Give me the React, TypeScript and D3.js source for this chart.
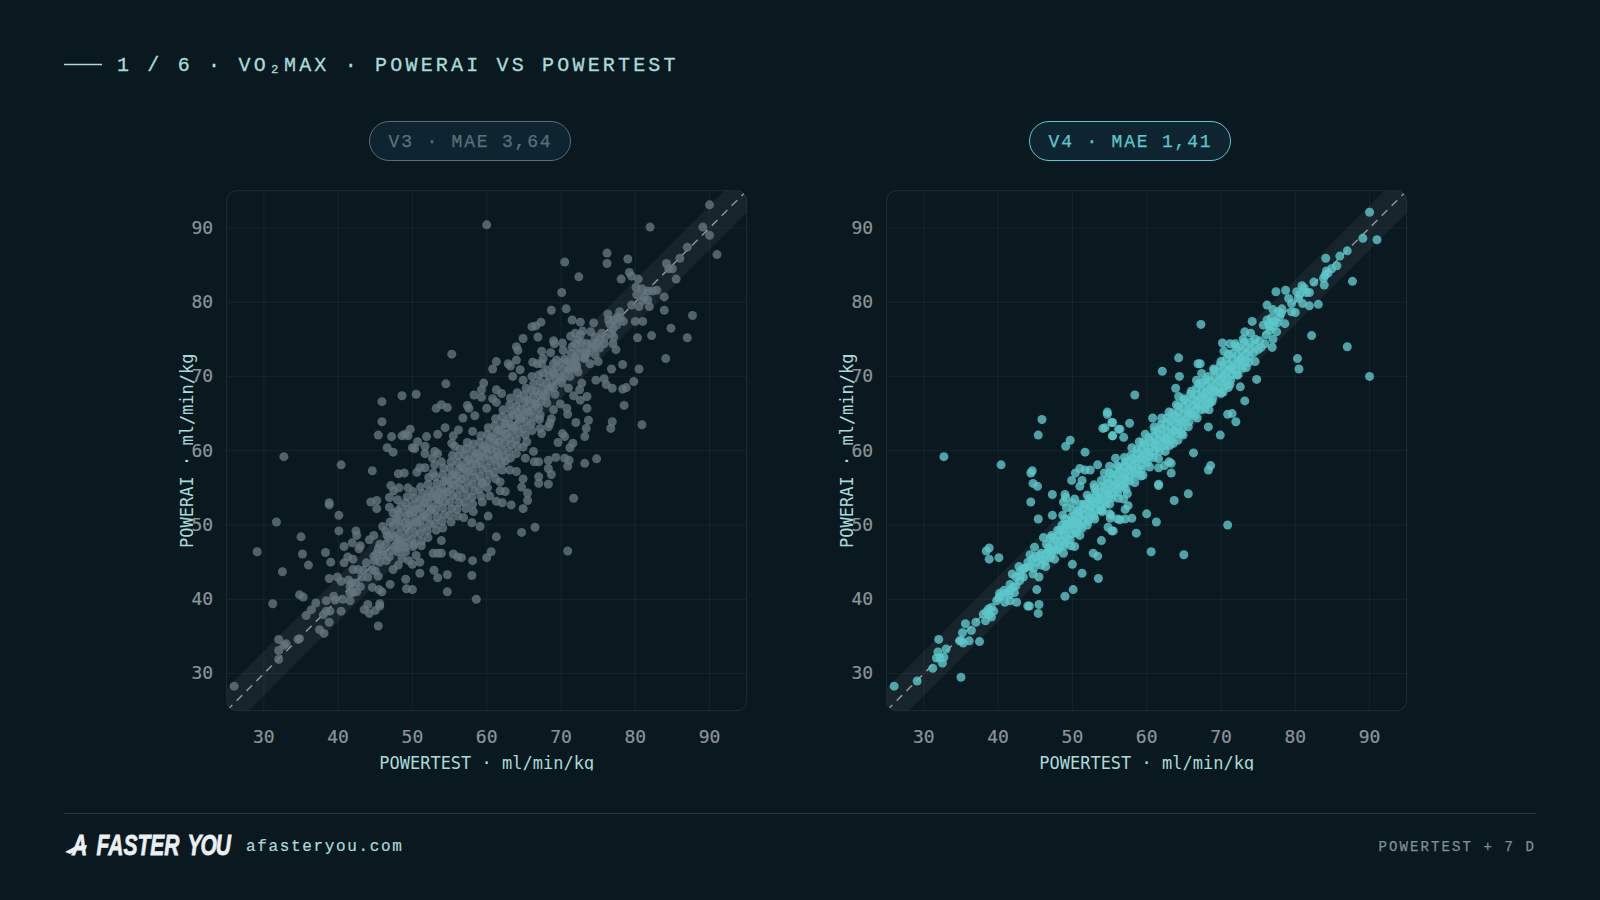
import React from "react";
import * as d3 from "d3";

type P = [number, number];

const tickValues = [30, 40, 50, 60, 70, 80, 90];
const domain: P = [25, 95];
const bandHalfWidth = 3;

const v3Points: P[] = [
[60,90.4],[82,90.1],[90,93.1],[89.1,90.1],[90,89],[91,86.4],[87,87.4],[86,85.9],[84.2,85.2],[84.5,84.5],[85,84.5],[85.5,83.1],
[76.2,86.6],[76.2,85.2],[79,85.8],[70.5,85.4],[72.4,83.4],[79.2,84],[79.5,83.5],[80.4,83.1],[78.1,83.1],[70.1,81.3],
[80.1,82],[80.9,81.8],[80.2,81],[81.2,80.7],[81.7,81.5],[82.9,81.6],[82.3,81.5],[81.7,80.3],[83.9,80.7],[81.9,79.4],[80.5,79.4],[79.5,79.6],[83.9,78.9],[81,80.2],
[87.7,78.2],[84.8,76.5],[87,75.2],[84.1,72.4],[82.2,75.5],[80.3,75.2],[81,77.4],[80,77.4],
[76.4,77.6],[77.1,77.6],[77.9,78.7],[76.3,78.4],[78.4,77.4],[77.5,76.9],[77.1,75.3],[77.4,73.6],[76.6,77],[77.6,78],[78,77.9],[77,76.4],[76.8,75.8],
[68.7,78.9],[70.7,79.1],[71.5,77.6],[72.6,77.3],[74.4,77.2],[67.3,77.3],[66.6,76.8],[66.1,76.7],[64.9,75.1],[66.9,75.3],[64,74],[64.2,73.5],[61.3,72],[60.8,71],[62.9,71.7],[63.2,71.4],[64,72.2],
[71.3,75.4],[71.9,75.8],[72.6,75.6],[72.9,76.1],[74,76],[74.6,75.3],[75.2,74.9],[75.9,75.3],[77,74.4],[73.5,74.4],[74.1,74.4],[74.8,74.5],[71.9,74.4],[72.3,74.9],[72.8,74.6],[75.5,75.8],
[69,74.8],[69.1,74.4],[70.2,74.5],[67.4,73.4],[68.6,73.2],[70.3,73.5],[67.6,72.4],[67.4,71.7],[66.2,71.9],[66.8,71.7],[69,71.7],[69.4,72.2],[70.5,72.3],[71.4,73.1],[71.9,72.6],[72.1,71.5],[73.2,72.6],[73.9,71.7],[75,72],[74.6,72.9],[73.5,73.1],[72.6,73.7],[71.5,74],[71,72],[71.8,71],
[67.6,70.5],[69,70.6],[70.3,69.8],[71.2,71.1],[72.3,70.6],[72.8,69.1],[74.7,69.5],[75.8,69.7],[76.1,68.9],[76.9,68.4],[76.8,71],[78.3,71.6],[80.5,71],[79.8,69.3],[78.3,68.3],[78.8,68.5],[78.5,66.1],[76.9,63.9],[76.7,63],[80.9,63.5],[74.8,58.9],[73.2,58.3],
[73.5,67.3],[72.6,66.8],[71.7,67.4],[72.5,68.2],[73.5,65.7],[69,65.5],[70.8,65.7],[70.9,64.9],[69.9,66.3],[71,68.4],[72,63.8],[73.7,64.1],[73.4,63],[73.2,61.9],[70.5,61.9],[70.2,62.3],[71.6,61],[71.2,60.4],[69.6,61.1],
[68.7,64.3],[68.5,63.7],[67.4,62.3],[67.1,64.2],[68.3,63.2],[67.2,63],[69.3,59.1],[68.3,58.7],[70.5,59],[71.1,58.7],[70.9,57.9],[68.3,57.6],[68.7,56.8],[67,58.5],[66.4,58.5],[67,56.5],[66.3,59.9],[65.2,59],[64.9,60.5],[65.4,61.2],[64,59.6],[63.1,57.4],[64,57.2],[62.5,58.6],[61.5,59.3],
[64.9,69.5],[66.1,70],[64.5,70.9],[63.5,70],[59.6,69.1],[59.3,68.2],[58.3,67.5],[59.3,67.2],[61.3,68.2],[62,67.7],[60.8,67],[61.3,66.5],[57.4,66.1],[57.6,65.7],[56.8,64.4],[58.4,64.7],[60,65.7],[58.1,62.6],
[32.7,59.2],[40.4,58.1],[44.6,57.3],[45.9,66.6],[48.6,67.4],[50.5,67.6],[54.5,69],[55.3,73],[53.2,65.7],[53.9,66.2],[54.7,65.8],[45.9,63.9],[45.4,62.1],[47.2,61.9],[48.6,62],[49.4,62],[49.7,62.9],[50.7,61.2],[51.9,61.9],[53.4,62.2],[54.4,63.1],[46.6,60.4],[47.4,59.8],[50.3,60.3],[51.7,60.6],[51.7,59.6],[53,59.9],[53.4,59.6],[52.7,59],[53.9,58.5],[48.1,56.9],[48.9,57],[50.6,57.1],[51,57.7],[51.7,57.7],[53,58.1],[52.8,57],[55.5,62],[56.2,62.8],[55.7,60.6],[55.3,61],[50,60.4],[49,62.2],
[26,28.3],[29.1,46.4],[31.7,50.4],[35,48.4],[35.2,46.1],[36,44.6],[32.5,43.7],[31.2,39.4],[34.8,40.6],[35.3,40.3],[32,34.6],[33,34],[32.7,33.8],[32,33.1],[32,31.9],[34.8,34.7],[34.6,34.6],[35.7,37.8],[36.4,38.6],[37,39.5],[37.5,35.9],[38.1,35.4],[38.8,36.9],[38,37.9],[38.9,38.4],[38.4,38.4],[38.4,39.8],[39.4,40.4],[39.6,39.9],[40.6,40],[41.6,39.8],[40.4,38.4],[38.8,42.8],[39.9,43],[40.4,42.4],[41.4,42.6],[38.3,46.3],[39,45],[40.8,44.9],[38.8,53],[38.8,52.7],[40.1,51.3],[40.1,49.2],[40.8,47.1],[41.9,47.6],[42.4,49.2],[42.5,48.6],[42.8,46.8],[43,47.2],[44.2,48],[44.8,48.6],[41.3,45.7],[42,45.4],
[42,44],[42.7,44],[43.4,43.9],[44,43],[45.4,43.1],[43.8,44.9],[41.6,41.7],[42,40.9],[42.5,41],[41.6,40.8],[43,41.7],[44.6,41.6],[45.5,41.3],[45.9,41],[47,42],[49.1,42.7],[49.2,41.4],[50,41.3],[43.5,38.6],[44,39.3],[44.2,38.1],[45,38.5],[45.6,39.4],[45.6,39.1],[45.4,36.4],[42.4,42.2],[41.8,42.2],[43.2,43],[44.6,44],[45,43.8],
[44.8,45.8],[45.4,46.8],[46.1,46.4],[44.9,45.2],[45.6,45],[46.5,45.2],[46.9,45.7],[45.6,47.4],[47.4,44],[48.1,44.6],[48.6,45.5],[47.9,47.5],[49,47],[49.5,45.2],[50.5,45.9],[51,45],[51,43.5],[50,44.7],[52.8,46.2],[53.4,46.2],[53.9,46.2],[55.5,46.1],[56.1,45.7],[52.9,43.9],[53.4,42.9],[54.7,43.3],[54.7,41],[53.9,47.9],[46,46],[45.2,46.2],[47.3,46.6],[48,46.4],[47.6,48.4],[48.2,47.9],[50.2,47.4],[51.2,47.2],[46.6,48.6],
[44.4,53.1],[45.2,53.3],[45.2,52.2],[46.9,52.4],[46.9,53.7],[47.1,55.3],[48.2,55],[49.4,55],[47.5,54.6],[48,53.4],[49.3,53.8],
[71.7,53.6],[66.5,49.7],[64.7,49],[61.3,48.4],[60.6,46.4],[60,45.6],[58.1,45.2],[58,43.2],[58.6,40],[56.6,45.6],[70.9,46.5],[59.1,49.8],[60.2,51.2],[58,50.3],[58.2,51.8],[56.9,51],[59.4,53.1],[61.3,53.2],[62.1,53],[63.3,52.7],[64.9,52.2],[65.5,53.3],[65.5,54.3],[64.7,55.1],[62.5,54.5],[61.8,54.6],[60.4,53.9],[67,55.6],[68.3,55.5],[64.9,56.2],[61.8,55.8],[59.4,55.6]
];

const v3Core: P[] = [
[47.2,48.8],[47.4,49.9],[47.8,50.8],[47.6,47.1],[48,51.9],
[48.1,46.9],[48.3,47.9],[48.2,48.8],[48.4,49.7],[48.1,50.6],[48.3,51.6],[48.5,52.5],
[49.1,46.4],[49,47.6],[49.2,48.5],[49.3,49.4],[49,50.3],[49.2,51.2],[49.4,52.1],[49.1,53],
[50.1,47.1],[50,48.1],[50.3,49],[50.1,50],[50.4,50.9],[50.2,51.8],[50,52.7],[50.3,53.6],[50.1,54.5],
[51.2,47.8],[51,48.8],[51.3,49.7],[51.1,50.6],[51.4,51.5],[51.2,52.4],[51,53.3],[51.3,54.2],[51.1,55.1],
[52.1,48.3],[52,49.2],[52.3,50.1],[52.1,51],[52.4,51.9],[52.2,52.8],[52,53.7],[52.3,54.6],[52.1,55.5],[52.2,56.4],
[53.2,49.3],[53,50.2],[53.3,51.1],[53.1,52],[53.4,52.9],[53.2,53.8],[53,54.7],[53.3,55.6],[53.1,56.5],
[54.1,49.6],[54,50.5],[54.3,51.4],[54.1,52.3],[54.4,53.2],[54.2,54.1],[54,55],[54.3,55.9],[54.1,56.8],[54.2,57.7],
[55.2,50.4],[55,51.3],[55.3,52.2],[55.1,53.1],[55.4,54],[55.2,54.9],[55,55.8],[55.3,56.7],[55.1,57.6],[55.2,58.5],[55.4,59.4],
[56.1,51.2],[56,52.1],[56.3,53],[56.1,53.9],[56.4,54.8],[56.2,55.7],[56,56.6],[56.3,57.5],[56.1,58.4],[56.2,59.3],[56.4,60.2],
[57.2,52.2],[57,53.1],[57.3,54],[57.1,54.9],[57.4,55.8],[57.2,56.7],[57,57.6],[57.3,58.5],[57.1,59.4],[57.2,60.3],[57.4,61.1],
[58.1,52.8],[58,53.7],[58.3,54.6],[58.1,55.5],[58.4,56.4],[58.2,57.3],[58,58.2],[58.3,59.1],[58.1,60],[58.2,60.9],
[59.2,53.9],[59,54.8],[59.3,55.7],[59.1,56.6],[59.4,57.5],[59.2,58.4],[59,59.3],[59.3,60.2],[59.1,61.1],[59.2,62],
[60.1,55],[60,55.9],[60.3,56.8],[60.1,57.7],[60.4,58.6],[60.2,59.5],[60,60.4],[60.3,61.3],[60.1,62.2],[60.2,63.1],
[61.2,56.2],[61,57.1],[61.3,58],[61.1,58.9],[61.4,59.8],[61.2,60.7],[61,61.6],[61.3,62.5],[61.1,63.4],[61.2,64.3],
[62.1,57.4],[62,58.3],[62.3,59.2],[62.1,60.1],[62.4,61],[62.2,61.9],[62,62.8],[62.3,63.7],[62.1,64.6],[62.2,65.5],
[63.2,59],[63,59.9],[63.3,60.8],[63.1,61.7],[63.4,62.6],[63.2,63.5],[63,64.4],[63.3,65.3],[63.1,66.2],[63.2,67.1],
[64.1,60.6],[64,61.5],[64.3,62.4],[64.1,63.3],[64.4,64.2],[64.2,65.1],[64,66],[64.3,66.9],[64.1,67.8],
[65.2,62.1],[65,63],[65.3,63.9],[65.1,64.8],[65.4,65.7],[65.2,66.6],[65,67.5],[65.3,68.4],
[66.1,62.7],[66,63.6],[66.3,64.5],[66.1,65.4],[66.4,66.3],[66.2,67.2],[66,68.1],[66.3,69],
[67.2,64.8],[67,65.7],[67.3,66.6],[67.1,67.5],[67.4,68.4],[67.2,69.3],[67,70.2],
[68.1,66.4],[68,67.3],[68.3,68.2],[68.1,69.1],[68.4,70],[68.2,70.9],
[69.2,67.6],[69,68.5],[69.3,69.4],[69.1,70.3],[69.4,71.2],
[70.1,69.1],[70,70],[70.3,70.9],[70.1,71.8],[71.2,70],[71,70.9],[71.3,71.8],[72.1,71.2],[72,72.2],[72.3,73.2],[73.1,72.4],[73.4,73.3],[74.2,73.8],[75.2,73.8],[75.8,74.4],[74.6,74],
[49.6,51.6],[50.6,50.4],[51.6,51.2],[52.6,52.2],[53.6,53.4],[54.6,54.4],[55.6,55.4],[56.6,56.2],[57.6,57.2],[58.6,58.2],[59.6,59.2],[60.6,60.2],[61.6,61.2],[62.6,62.2],[63.6,63.2],[64.6,64.4],[65.6,65.2],[66.6,66.2],[67.6,67.4],[68.6,68.6],
[49.6,50.2],[50.6,52.2],[51.6,53],[52.6,53.8],[53.6,54.4],[54.6,56],[55.6,56.8],[56.6,57.8],[57.6,58.8],[58.6,59.6],[59.6,60.6],[60.6,61.8],[61.6,62.8],[62.6,63.6],[63.6,64.8],[64.6,65.6],[65.6,66.8],[66.6,68],
[46.4,47.4],[46.8,48.2],[47,50.4],[46.4,49.2],[47.4,51.6],[46,49.8]
];

const v4Points: P[] = [
[90,92.1],[89.1,88.6],[91,88.4],[87,86.9],[86,86.2],[84.1,85.9],[85.6,84.9],[84.9,84.5],[84.2,84.2],[84.4,83.9],[84,83.6],[83.8,83.2],[83.9,82.3],[87.7,82.8],[82.5,82.7],
[80.9,82.2],[81.2,81.9],[81.5,81.3],[81.9,81.3],[80.2,81.4],[79.1,80.5],[79.5,79.8],[80.4,80.5],[80.6,81],[81,79.8],[81.9,79.5],[83.1,79.7],[80,78.6],[79.5,78.7],[77.4,81.4],[78.7,81.6],[76.2,79.6],[74.2,77.4],
[77,79],[77.7,78.7],[78.2,79.1],[77.9,78],[78.1,78.5],[78.6,77.1],[76.4,77.1],[75.7,76.9],[77,76.7],[76.2,77.6],[76.8,77.9],[77.5,76],[76.6,76.2],[76.1,75.6],[77,75],[75.9,74.4],[76.9,73.9],[77.6,77.2],[76.5,76.8],[77.2,77.4],
[73.2,76],[70.2,74.5],[71.2,74.4],[71.9,74.4],[70.4,73.4],[82.2,75.5],[87,74],[80.3,72.4],[80.5,71],[90,70],[67.3,77],[64.3,72.5],[66.9,71.7],[67.2,71.7],[62.1,70.7],[64.4,70],[67.4,70.4],[66.7,69.5],[63.9,68.4],[64.3,67.3],[58.4,67.5],
[74.8,69.6],[72.6,68.6],[70.3,67.9],[71,68.5],[73.2,66.7],[70.9,64.9],[71.5,65],[72,63.9],[68.3,63.2],[69.9,62.1],[68.5,66.4],[68.4,65.5],[66.3,59.7],[68.6,58],[68.3,57.4],[64.2,61.4],[64.9,62.1],[63.1,60.7],[63.3,58.3],[62.4,58],[63.3,57],[57.7,63.7],[56.4,62.9],[55.4,63.8],[55.4,62],[56.9,61.8],[60.8,64.4],
[61.6,55.5],[65.6,54.2],[60,51.5],[61.3,50.4],[70.9,50],[58.6,48.9],[60.6,46.4],[65,46],[58,50.9],[57.1,50.8],[56.4,50.7],[57.1,52.1],[56.9,53.5],[55.5,49.2],[55.2,51.3],[57.4,54.2],
[32.7,59.2],[40.4,58.1],[44.6,57.3],[45.9,64.2],[45.4,62.1],[49.1,60.6],[49.7,61.4],[51.7,59.8],[51,57.6],[51.7,57.4],[50.4,57],[54.7,65.2],[55.3,63.8],[54.1,63],[54.4,63.1],[55.4,62],[56.2,62.9],[54.3,57],[55,57.9],[55.8,59],
[26,28.3],[29.1,29],[31.2,30.7],[35,29.5],[32,34.6],[33,33.3],[31.9,32.9],[31.7,32.1],[32.2,32.1],[32.7,32.2],[32.5,31.4],[34.8,34.4],[35.1,34.4],[35.3,34.1],[36.1,34.4],[35.2,35.5],[35.6,36.7],[36.4,35.8],[37,36.9],[37.5,34.3],
[38.3,37.1],[38,38],[38.7,38.7],[39.1,38.9],[38.4,38.3],[39.1,37.6],[38.8,37.9],[39.4,38.4],[39.8,39.8],[40.4,40.5],[40.9,39.6],[41.6,39.8],[42.5,39.6],[42.2,40.9],[41.6,41.2],[42,41.6],[42.9,42.5],[43,43.2],[41.9,43.4],[40.1,40.2],[41,40.8],[41.5,40.6],[42.4,41.8],[43.4,43],
[38.4,46.5],[38.8,46.9],[38.8,45.4],[40.1,45.6],[44,39.1],[44.2,39.1],[45.5,39.3],[45.4,38.1],[45.2,41.3],[45.5,43],[49,40.4],[50.1,41.3],[53.5,42.8],[51.3,43.5],[50,44.7],[52.8,46.2],[50.3,47.1],[53.9,47.9],[44.3,46],[43.4,44.1],[44.7,43.4],[44.9,47],[46.1,48.3],[47.2,48.6],[45.4,50.8],
[44.4,53.1],[45.3,55.2],[47.3,54.1],[47.3,51.3],[48.7,51.3],[49,54.1],[48.8,53.1],[49.9,53],[50.3,53.5],[51,55.2],[49.9,56],[52.9,55.4],[54.8,49.7],[55.3,49.2],[55,51.5],[55.1,50.9],[56.1,50.8],
[44.4,57],[44.7,55.6],[49.1,53.7],[49.2,52.3],[51.3,56],[52.4,57.4],[53.4,58.1],[54.7,64.9],[59.5,56.7],[61.6,57.7],[63,58.5],[63.7,53.3],[53.4,45.8],[54,52],[57.5,52.6],[61.6,55.3]
];

const v4Core: P[] = [
[43.6,44.2],[44.2,44.4],[44.8,44.2],[45.2,45],[45.8,44.6],[46.3,45.1],[45,45.8],[45.8,46.2],[46.5,46.2],[47,45.6],[47.3,46.4],[46.8,47],[47.4,47.3],[47.8,46.8],[48.3,47],[47.8,47.9],[48.4,47.8],[48.9,47.6],[48.2,48.6],[48.8,48.6],[49.3,48.2],[48.8,49.3],[49.4,49.2],[49.9,48.8],[49.3,50],[49.9,49.9],[50.4,49.4],[49.9,50.6],[50.5,50.4],[51,49.8],[50.3,51.2],[50.9,51],[51.5,50.6],[51,51.7],[51.5,51.4],[52.1,51],[51.5,52.2],[52.1,52],[52.6,51.5],[52,52.9],[52.6,52.6],[53.2,52.1],[52.6,53.3],[53.2,53],[53.7,52.6],[53.2,53.9],[53.7,53.6],[54.3,53.1],[53.7,54.4],[54.3,54.1],[54.9,53.7],[54.3,55],[54.9,54.7],[55.4,54.2],[54.8,55.6],[55.4,55.2],[56,54.8],[55.4,56.2],[56,55.8],[56.5,55.3],[56,56.8],[56.5,56.3],[57.1,55.8],[56.5,57.3],[57.1,56.9],[57.7,56.5],[57,57.9],[57.6,57.5],[58.2,57],[57.6,58.5],[58.2,58],[58.8,57.6],[58.1,59],[58.7,58.6],[59.3,58.1],[58.7,59.6],[59.3,59.2],[59.8,58.7],[59.3,60.2],[59.8,59.7],[60.4,59.3],[59.8,60.8],[60.4,60.3],[61,59.9],[60.4,61.3],[61,60.9],[61.5,60.4],[61,61.9],[61.5,61.4],[62.1,61],[61.5,62.4],[62.1,62],[62.7,61.6],[62,63],[62.6,62.6],[63.2,62.1],[62.6,63.6],[63.2,63.1],[63.8,62.7],[63.2,64.1],[63.7,63.7],[64.3,63.2],[63.8,64.7],[64.3,64.3],[64.9,63.9],[64.3,65.2],[64.9,64.9],[65.4,64.4],[65,65.8],[65.5,65.4],[66,65],[65.6,66.4],[66.1,66],[66.6,65.6],[66.2,67],[66.7,66.6],[67.2,66.2],[66.8,67.5],[67.3,67.2],[67.8,66.8],[67.4,68.1],[67.9,67.8],[68.4,67.4],[68,68.7],[68.5,68.3],[69,67.9],[68.6,69.3],[69.1,68.9],[69.6,68.5],[69.2,69.9],[69.7,69.5],[70.2,69.1],[69.8,70.5],[70.3,70.1],[70.8,69.7],[70.4,71.1],[70.9,70.7],[71.4,70.2],[71,71.6],[71.5,71.2],[72,70.9],[71.6,72.2],[72.1,71.8],[72.6,71.4],[72.2,72.8],[72.7,72.4],[73.2,72],[72.8,73.4],[73.3,73],[73.8,72.6],[73.4,74],[73.9,73.6],[74.4,73.2],[74,74.6],[74.5,74.2],[75,73.6],[74.6,75],[75.2,74.8],[75.4,73.9],
[42.8,44.4],[47,48.2],[48,49.3],[49,50.8],[50.1,52],[51,52.8],[52,54],[53,55],[53.9,56],[55,57],[56,58],[57,59.1],[58,60.4],[59,61.2],[59.8,62.2],[61,63.2],[62,64.4],[63,65.2],[64,66.2],[65,67],[66,68],[67,69],[68,69.6],[69,71],[70,72],[71,73],[72,74],[73,75],[74,75.8],
[46.4,44.4],[47.6,45.4],[48.8,46.2],[49.8,47.2],[51,48.6],[52,50],[53,50.8],[54,51.8],[55,52.8],[56.2,53.6],[57.2,54.8],[58.4,55.7],[59.2,56.6],[60.4,57.8],[61.6,58.9],[62.5,59.9],[63.6,61],[64.7,62.3],[65.6,63.2],[66.8,64.4],[67.8,65.6],[68.8,66.6],[70,67.7],[71.2,68.9],[72.3,70.2],[73.4,71.2],[74.6,72],
[46.5,47.4],[47.4,48.3],[48.3,49.3],[49.1,50.1],[49.9,51.1],[50.7,51.9],[51.5,52.8],[52.3,53.6],[53.1,54.5],[53.9,55.2],[54.7,56.1],[55.5,56.9],[56.3,57.8],[57.1,58.5],[57.9,59.4],[58.7,60.2],[59.5,61.1],[60.3,61.8],[61.1,62.7],[61.9,63.5],[62.7,64.4],[63.5,65.1],[64.3,66],[65.1,66.8],[65.9,67.6],[66.7,68.4],[67.5,69.2],[68.3,70],[69.1,70.8],[69.9,71.5],[70.7,72.3],[71.5,73.1],[72.3,73.9],[73.1,74.6],
[47.1,45.9],[48,46.6],[48.9,47.2],[49.7,48],[50.5,48.9],[51.3,49.6],[52.1,50.5],[52.9,51.2],[53.7,52],[54.5,52.8],[55.3,53.6],[56.1,54.4],[56.9,55.2],[57.7,55.9],[58.5,56.8],[59.3,57.5],[60.1,58.4],[60.9,59.1],[61.7,59.9],[62.5,60.7],[63.3,61.5],[64.1,62.3],[64.9,63.1],[65.7,63.9],[66.5,64.7],[67.3,65.5],[68.1,66.3],[68.9,67.1],[69.7,67.9],[70.5,68.7],[71.3,69.5],[72.1,70.2],[72.9,71.1],[73.7,71.9],
[44.6,45.4],[45.6,45.9],[46,45.4],[46.8,46.4],[44,45],[43,43.8],[42.4,43],[41.6,42],[40.8,41.2],[40.2,40.8],
[48.6,50],[50,50.2],[50.8,50.2],[52.4,52.4],[53.5,53.4],[54.8,54.2],[55.8,55.4],[57,56.4],[58,57.8],[59,58.9],[60.2,59.8],[61.2,60.8],[62.4,61.6],[63.6,62.6],[64.6,63.8],[65.8,65],[66.8,66],[67.8,67.2],[69,68.2],[70.2,69.8],[71.4,71],[72.6,72.2]
];

const bg = "#0a1820";
const accent = "#a8dcd8";
const liberation = "'Liberation Mono', monospace";
const dejavu = "'DejaVu Sans Mono', monospace";

const plotSize = 520;
const plotTop = 190.7;
const scaleX = (left: number) => d3.scaleLinear().domain(domain).range([left, left + plotSize]);
const scaleY = d3.scaleLinear().domain(domain).range([plotTop + plotSize, plotTop]);

function Panel({ id, left, points, fill, label, pillStroke, pillText, pillX }: {
  id: string; left: number; points: P[]; fill: string; label: string; pillStroke: string; pillText: string; pillX: number;
}) {
  const x = scaleX(left);
  const y = scaleY;
  const [d0, d1] = domain;
  const band = d3.line<P>().x((d) => x(d[0])).y((d) => y(d[1]))([
    [d0, d0 + bandHalfWidth], [d1 - bandHalfWidth, d1], [d1, d1], [d1, d1 - bandHalfWidth], [d0 + bandHalfWidth, d0], [d0, d0],
  ]) as string;
  const cx = left + plotSize / 2;
  return (
    <g>
      <defs>
        <clipPath id={`clip-${id}`}>
          <rect x={left} y={plotTop} width={plotSize} height={plotSize} rx={10} />
        </clipPath>
        <clipPath id={`xl-${id}`}>
          <rect x={left - 100} y={740} width={plotSize + 200} height={30.5} />
        </clipPath>
      </defs>
      <rect x={pillX - 100} y={121.5} width={201} height={39} rx={19.5} fill="#0f2431" stroke={pillStroke} strokeWidth={1} />
      <text x={pillX + 1} y={147} textAnchor="middle" fontFamily={liberation} fontSize={18} letterSpacing={1.8} fill={pillText} stroke={pillText} strokeWidth={0.25}>{label}</text>

      <g clipPath={`url(#clip-${id})`}>
        <path d={band} fill="#ffffff" fillOpacity={0.055} />
        {tickValues.map((t) => (
          <g key={t} stroke="#ffffff" strokeOpacity={0.05} strokeWidth={1}>
            <line x1={x(t)} x2={x(t)} y1={plotTop} y2={plotTop + plotSize} />
            <line x1={left} x2={left + plotSize} y1={y(t)} y2={y(t)} />
          </g>
        ))}
        <line x1={x(d0)} y1={y(d0)} x2={x(d1)} y2={y(d1)} stroke="#ffffff" strokeOpacity={0.5} strokeWidth={1.5} strokeDasharray="8 6" />
        {points.map((p, i) => (
          <circle key={i} cx={x(p[0])} cy={y(p[1])} r={4.5} fill={fill} fillOpacity={0.8} />
        ))}
      </g>
      <rect x={left} y={plotTop} width={plotSize} height={plotSize} rx={10} fill="none" stroke="#ffffff" strokeOpacity={0.09} strokeWidth={1} />

      {tickValues.map((t) => (
        <text key={`x${t}`} x={x(t)} y={742.7} textAnchor="middle" fontFamily={dejavu} fontSize={18} fill="#8b9499" stroke="#8b9499" strokeWidth={0.2}>{t}</text>
      ))}
      {tickValues.map((t) => (
        <text key={`y${t}`} x={left - 13.5} y={y(t) + 5.8} textAnchor="end" fontFamily={dejavu} fontSize={18} fill="#8b9499" stroke="#8b9499" strokeWidth={0.2}>{t}</text>
      ))}
      <g clipPath={`url(#xl-${id})`}>
        <text x={cx} y={769} textAnchor="middle" fontFamily={dejavu} fontSize={17} fill={accent}>POWERTEST · ml/min/kg</text>
      </g>
      <text transform={`translate(${left - 34},${plotTop + plotSize / 2}) rotate(-90)`} textAnchor="middle" fontFamily={dejavu} fontSize={17} fill={accent}>POWERAI · ml/min/kg</text>
    </g>
  );
}

export default function App() {
  return (
    <svg width={1600} height={900} viewBox="0 0 1600 900" style={{ position: "absolute", left: 0, top: 0, display: "block" }}>
      <rect width={1600} height={900} fill={bg} />
      <line x1={64} x2={102} y1={64.5} y2={64.5} stroke={accent} strokeWidth={1.5} />
      <text x={117} y={71} fontFamily={liberation} fontSize={20} letterSpacing={3.18} fill={accent} stroke={accent} strokeWidth={0.3}>1 / 6 · VO₂MAX · POWERAI VS POWERTEST</text>

      <Panel id="v3" left={226.7} points={[...v3Points, ...v3Core]} fill="#64757e" label="V3 · MAE 3,64" pillStroke="#5a6b74" pillText="#5e6f78" pillX={469.5} />
      <Panel id="v4" left={886.7} points={[...v4Points, ...v4Core]} fill="#5cc8cb" label="V4 · MAE 1,41" pillStroke="#5cc8cb" pillText="#5cc8cb" pillX={1129.5} />

      <line x1={64} x2={1536} y1={813.5} y2={813.5} stroke="#ffffff" strokeOpacity={0.14} strokeWidth={1} />
      <path d="M65 852 L76 846 L87 845 L86 849 L77 850 L70 854 Z" fill="#eceff1" />
      <g transform="scale(0.7,1)">
        <text y={855} fontFamily="'Liberation Sans', sans-serif" fontStyle="italic" fontWeight={700} fontSize={30} fill="#eceff1" stroke="#eceff1" strokeWidth={0.8}>
          <tspan x={103}>A</tspan> <tspan x={138}>FASTER</tspan> <tspan x={268} letterSpacing={-1.5}>YOU</tspan>
        </text>
      </g>
      <text x={246} y={851} fontFamily={liberation} fontSize={16} letterSpacing={1.65} fill={accent} stroke={accent} strokeWidth={0.2}>afasteryou.com</text>
      <text x={1536} y={851} textAnchor="end" fontFamily={liberation} fontSize={14} letterSpacing={2.1} fill="#7f8f98" stroke="#7f8f98" strokeWidth={0.25}>POWERTEST + 7 D</text>
    </svg>
  );
}
